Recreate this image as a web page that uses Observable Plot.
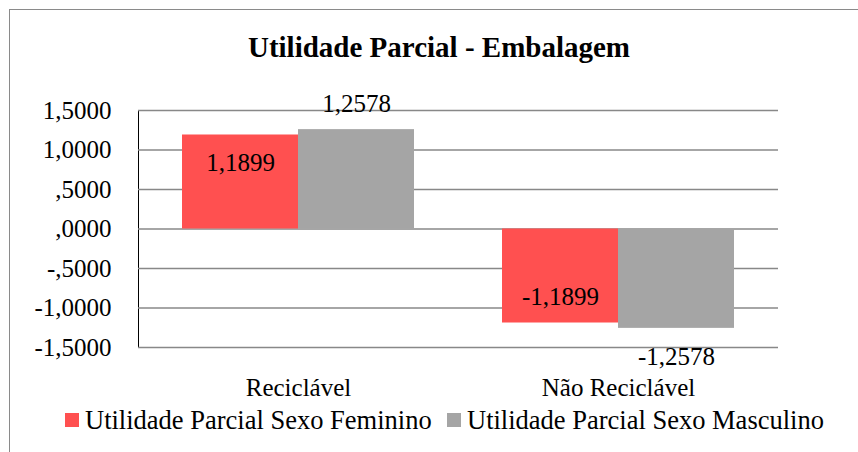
<!DOCTYPE html>
<html>
<head>
<meta charset="utf-8">
<script src="https://cdn.jsdelivr.net/npm/d3@7"></script>
<script src="https://cdn.jsdelivr.net/npm/@observablehq/plot@0.6"></script>
<style>
  html, body { margin: 0; padding: 0; background: #fff; }
  #wrap { position: relative; width: 858px; height: 452px; overflow: hidden; background: #fff; font-family: "Liberation Serif", "Times New Roman", serif; }
  #frame { position: absolute; left: 9px; top: 9px; width: 900px; height: 500px; border: 1.5px solid #8a8a8a; box-sizing: border-box; }
  #title { position: absolute; left: 0; top: 33px; width: 878px; text-align: center; font-weight: bold; font-size: 29px; line-height: 29px; color: #000; }
  #chart { position: absolute; left: 0; top: 0; }
  .leg { position: absolute; top: 407px; font-size: 26.5px; line-height: 26.5px; color: #000; white-space: nowrap; }
  .sw { position: absolute; top: 413px; width: 14px; height: 14px; }
</style>
</head>
<body>
<div id="wrap">
  <div id="frame"></div>
  <div id="chart"></div>
  <div id="title"></div>
  <div id="legend"></div>
</div>
<script>
const title = "Utilidade Parcial - Embalagem";
const categories = ["Reciclável", "Não Reciclável"];
const series = ["Utilidade Parcial Sexo Feminino", "Utilidade Parcial Sexo Masculino"];
const feminino = [1.1899, -1.1899];
const masculino = [1.2578, -1.2578];
const yTicks = [-1.5, -1.0, -0.5, 0, 0.5, 1.0, 1.5];
const colors = ["#FF5050", "#A5A5A5"];

const FONT = '"Liberation Serif", "Times New Roman", serif';

const data = [];
categories.forEach((c, i) => {
  data.push({cat: c, serie: series[0], v: feminino[i]});
  data.push({cat: c, serie: series[1], v: masculino[i]});
});

const fmt = v => {
  const s = Math.abs(v).toFixed(4).replace(".", ",");
  const t = s.startsWith("0,") ? s.slice(1) : s;
  return (v < 0 ? "-" : "") + t;
};

document.getElementById("title").textContent = title;

const legend = document.getElementById("legend");
const legPos = [[65, 85], [447, 467]];
series.forEach((s, i) => {
  const sw = document.createElement("div");
  sw.className = "sw";
  sw.style.left = legPos[i][0] + "px";
  sw.style.background = colors[i];
  legend.appendChild(sw);
  const t = document.createElement("div");
  t.className = "leg";
  t.style.left = legPos[i][1] + "px";
  t.textContent = s;
  legend.appendChild(t);
});

const gridStroke = "#888888";
const fs = 25;

const chart = Plot.plot({
  width: 858,
  height: 452,
  marginLeft: 138,
  marginRight: 80,
  marginTop: 110,
  marginBottom: 105,
  style: {fontFamily: FONT, fontSize: fs + "px", background: "transparent", color: "#000"},
  fx: {domain: categories, padding: 0, axis: "bottom", tickSize: 0, tickPadding: 31, label: null, fontSize: 26.5},
  x: {domain: series, paddingInner: 0, paddingOuter: 0.379, axis: null},
  y: {domain: [-1.5, 1.5], ticks: yTicks, tickFormat: fmt, tickSize: 0, tickPadding: 27, label: null, line: true, fontSize: fs},
  color: {domain: series, range: colors},
  marks: [
    Plot.gridY(yTicks, {stroke: gridStroke, strokeOpacity: 1, strokeWidth: 1.5}),
    Plot.barY(data, {fx: "cat", x: "serie", y: "v", fill: "serie"}),
    Plot.ruleX(categories, {fx: d => d, y1: () => 0, y2: () => 0, insetBottom: -7, dx: -160, stroke: gridStroke, strokeWidth: 1.5}),
    Plot.ruleX(categories.slice(-1), {fx: d => d, y1: () => 0, y2: () => 0, insetBottom: -7, dx: 160, stroke: gridStroke, strokeWidth: 1.5}),
    Plot.text(data.filter(d => d.serie === series[0] && d.v >= 0), {fx: "cat", x: "serie", y: "v", text: d => fmt(d.v), dy: 28, fontSize: fs, fill: "#000"}),
    Plot.text(data.filter(d => d.serie === series[0] && d.v < 0), {fx: "cat", x: "serie", y: "v", text: d => fmt(d.v), dy: -26, fontSize: fs, fill: "#000"}),
    Plot.text(data.filter(d => d.serie === series[1] && d.v >= 0), {fx: "cat", x: "serie", y: "v", text: d => fmt(d.v), dy: -26, fontSize: fs, fill: "#000"}),
    Plot.text(data.filter(d => d.serie === series[1] && d.v < 0), {fx: "cat", x: "serie", y: "v", text: d => fmt(d.v), dy: 29, fontSize: fs, fill: "#000"})
  ]
});
document.getElementById("chart").appendChild(chart);
</script>
</body>
</html>
